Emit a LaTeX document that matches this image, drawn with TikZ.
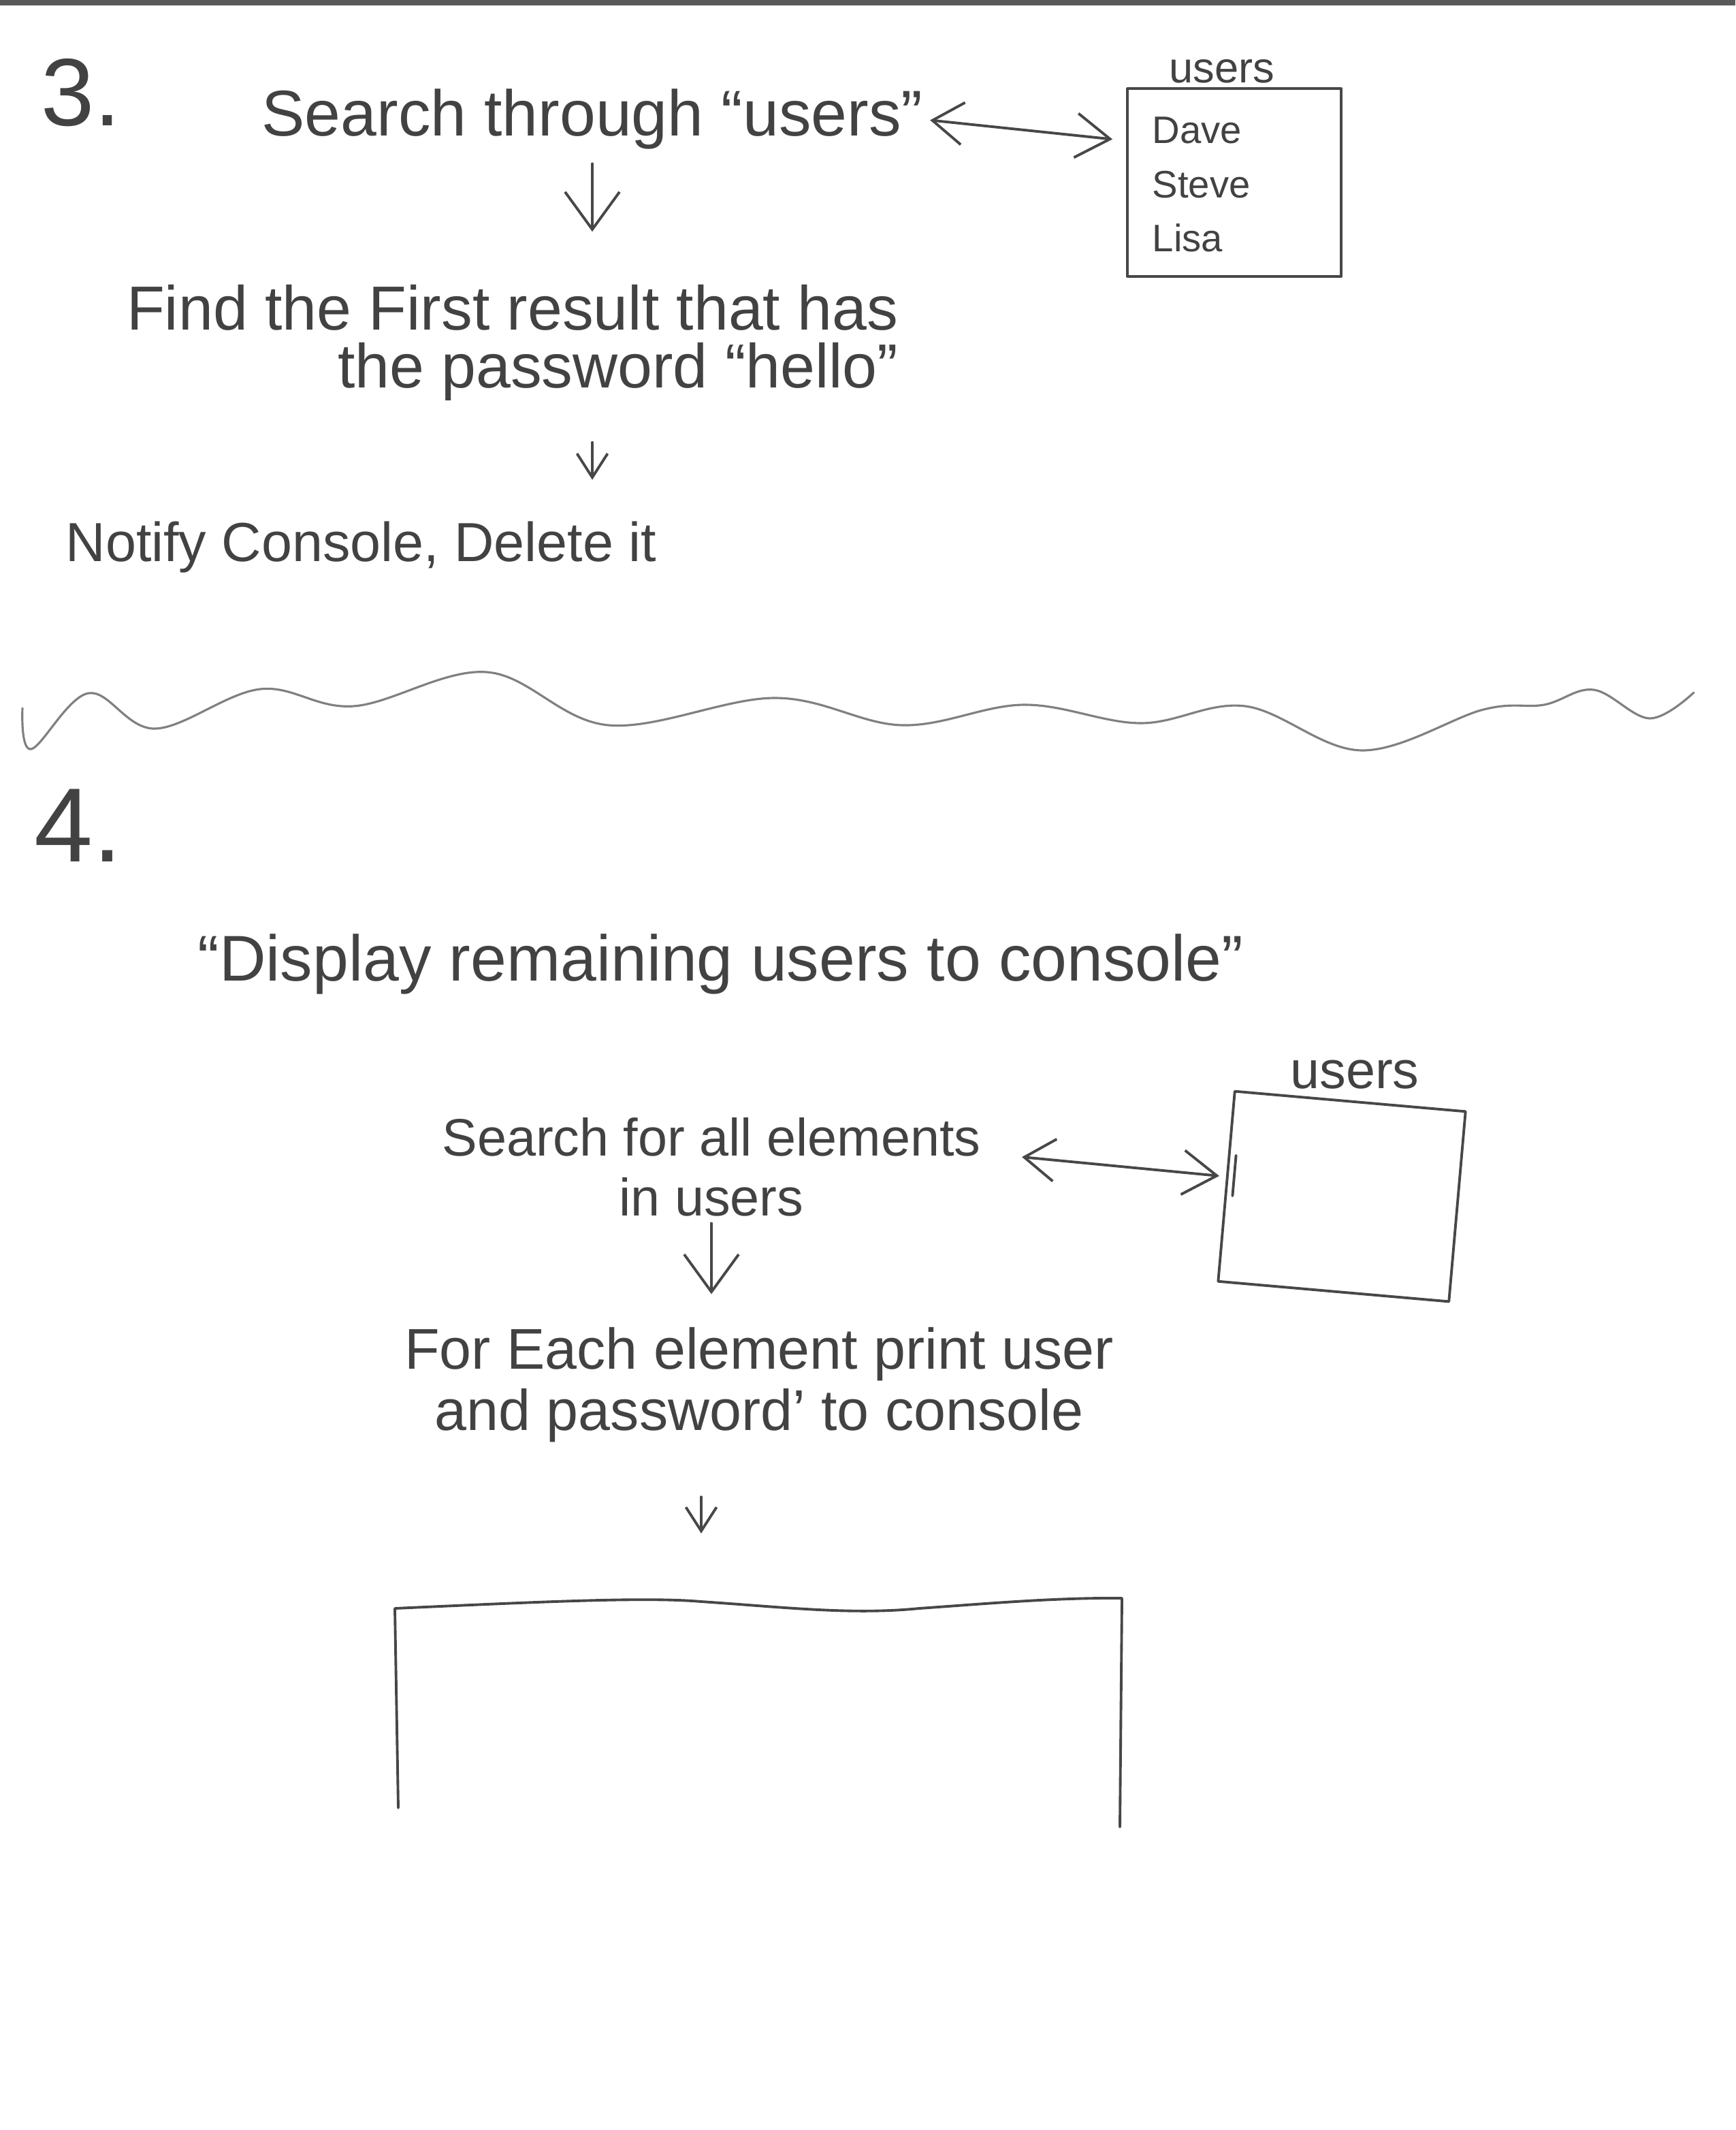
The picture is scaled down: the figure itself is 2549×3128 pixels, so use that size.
\documentclass[tikz,border=0pt]{standalone}
\usepackage{fontspec}
\setmainfont{Liberation Sans}
\usetikzlibrary{arrows.meta,calc}

\newcommand{\penfont}[2]{\fontsize{#1}{#2}\selectfont}

\tikzset{
  pencil/.style={draw=black!72, line width=1.1pt, line cap=round, line join=round},
  hand/.style={text=black!74, inner sep=0pt},
  bigarrow/.style={pencil, -{Straight Barb[length=0.55cm, width=0.8cm]}},
  smallarrow/.style={pencil, -{Straight Barb[length=0.35cm, width=0.45cm]}},
  linkarrow/.style={pencil, {Straight Barb[length=0.45cm, width=0.62cm]}-{Straight Barb[length=0.5cm, width=0.65cm]}},
}

\begin{document}
\begin{tikzpicture}[x=0.01cm, y=-0.01cm]
\useasboundingbox (0,0) rectangle (2549,3128);
\fill[black!65] (0,0) rectangle (2549,8);

% --- Paso 3: buscar y borrar ---
\node[hand, anchor=base west, font=\penfont{40}{48}] (num3) at (60,185) {3.};
\node[hand, anchor=base, font=\penfont{27}{32}] (search3) at (870,200) {Search through “users”};

% tabla users
\node[pencil, minimum width=3.14cm, minimum height=2.75cm] (box3) at (1813,268) {};
\node[hand, anchor=base, font=\penfont{18}{22}] (box3label) at (1795,122) {users};
\node[hand, anchor=base west, align=left, font=\penfont{16}{22.7}] (names3) at (1692,370) {Dave\\Steve\\Lisa};

\node[hand, anchor=base east, align=right, font=\penfont{26}{24.4}] (find3) at (1320,570) {Find the First result that has\\the password “hello”};
\node[hand, anchor=base west, font=\penfont{23}{28}] (notify3) at (96,824) {Notify Console, Delete it};

\draw[linkarrow, shorten <=0.1cm, shorten >=0.2cm] (search3.east) -- ($(box3.north west)!0.28!(box3.south west)$);
\draw[bigarrow, shorten <=0.2cm, shorten >=0.77cm] (search3.south) -- (search3.south |- find3.north);
\draw[smallarrow, shorten <=0.6cm, shorten >=0.6cm] (search3.south |- find3.south) -- (search3.south |- notify3.north);

% --- Separador ---
\draw[pencil, draw=black!50, line width=0.9pt] plot[smooth, tension=0.6] coordinates {(33,1040) (46,1100) (130,1018) (228,1070) (382,1012) (520,1037) (715,987) (894,1065) (1138,1025) (1325,1065) (1504,1035) (1675,1062) (1829,1037) (2000,1102) (2179,1042) (2268,1035) (2341,1013) (2423,1055) (2488,1017)};

% --- Paso 4: mostrar usuarios ---
\node[hand, anchor=base west, font=\penfont{44}{52}] (num4) at (50,1265) {4.};
\node[hand, anchor=base west, font=\penfont{27}{32}] (display4) at (290,1440) {“Display remaining users to console”};

% tabla users
\node[pencil, minimum width=3.4cm, minimum height=2.8cm, rotate=-5] (box4) at (1971,1757) {};
\node[hand, anchor=base, font=\penfont{22}{26}] (box4label) at (1990,1598) {users};
\draw[pencil] ($(box4.north west)!0.34!(box4.south west)+(12,0)$) -- ($(box4.north west)!0.55!(box4.south west)+(12,0)$);

\node[hand, anchor=base, align=center, font=\penfont{22}{25}] (search4) at (1045,1785) {Search for all elements\\in users};
\node[hand, anchor=base, align=center, font=\penfont{24}{25.5}] (for4) at (1115,2100) {For Each element print user\\and password’ to console};

% consola
\coordinate (screen-bl) at (585,2655);
\coordinate (screen-tl) at (580,2362);
\coordinate (screen-tr) at (1648,2347);
\coordinate (screen-br) at (1645,2683);
\coordinate (out4) at (1030,2352);
\draw[pencil] (screen-bl) -- (screen-tl)
      .. controls (800,2352) and (950,2345) .. (out4)
      .. controls (1150,2360) and (1250,2372) .. (1350,2362)
      .. controls (1450,2355) and (1550,2346) .. (screen-tr) -- (screen-br);

\draw[linkarrow, shorten <=0.6cm, shorten >=0.1cm] ([yshift=0.2cm]search4.east) -- ($(box4.north west)!0.45!(box4.south west)$);
\draw[bigarrow, shorten <=0.1cm, shorten >=0.48cm] (search4.south) -- (search4.south |- for4.north);
\draw[smallarrow, shorten <=0.8cm, shorten >=1cm] (for4.south -| out4) -- (out4);

\end{tikzpicture}
\end{document}
